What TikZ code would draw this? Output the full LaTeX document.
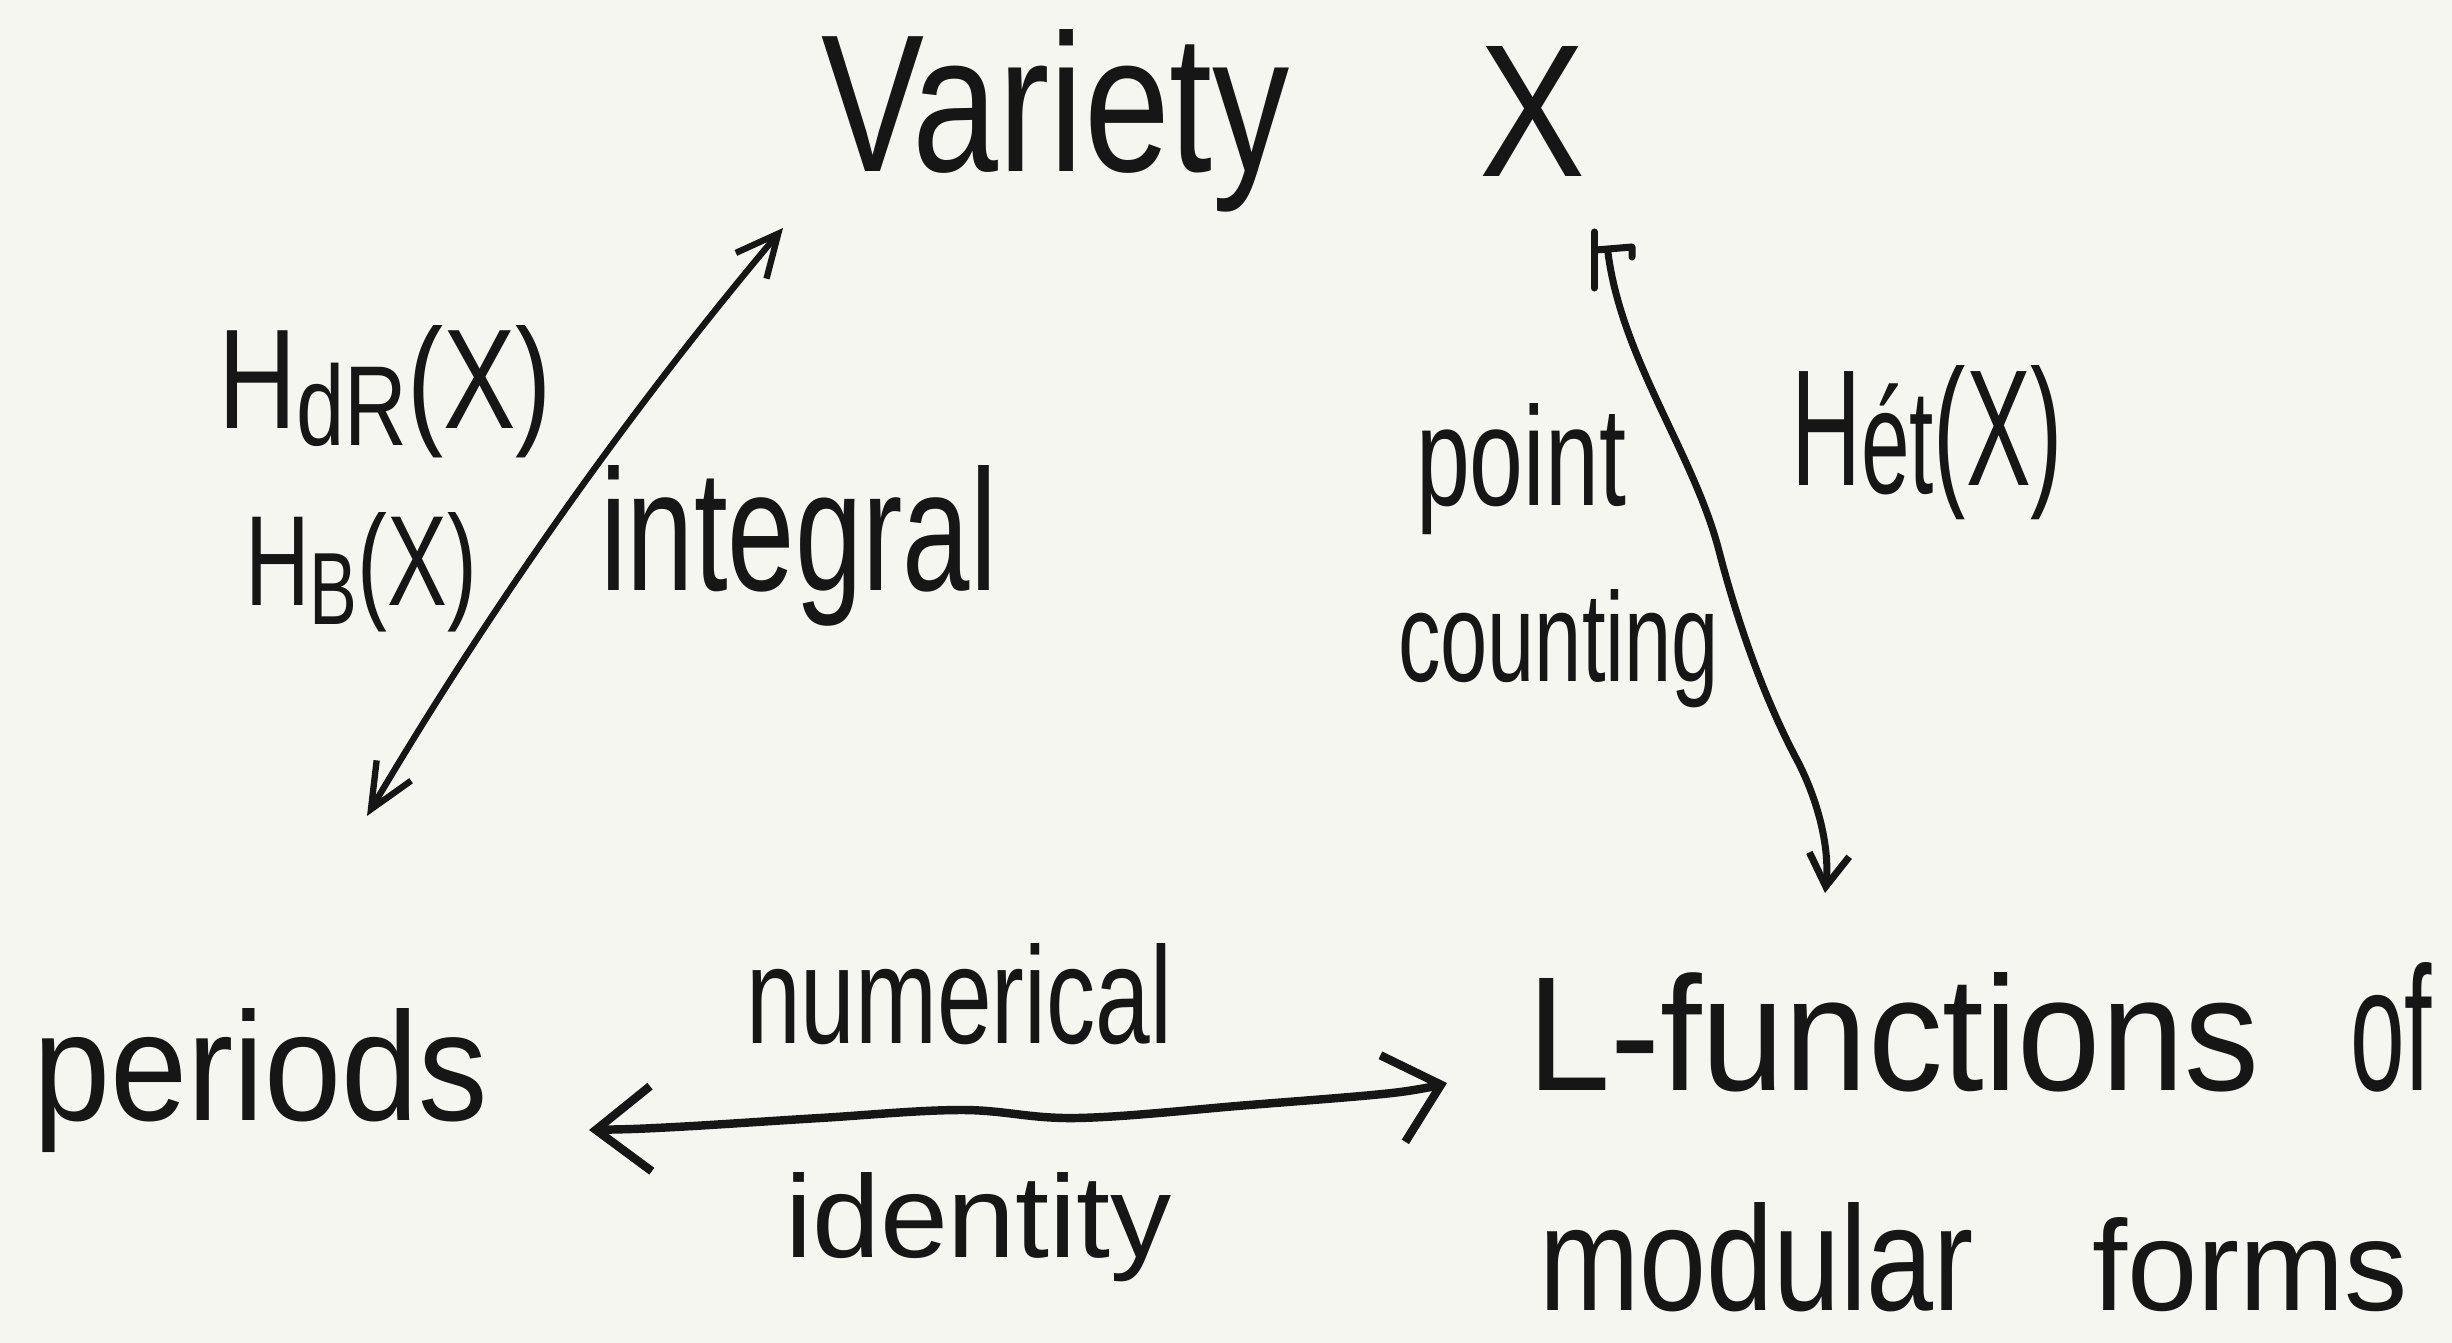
\documentclass[tikz,border=0pt]{standalone}
\usepackage{graphicx}
\usepackage{fontspec}
\setmainfont{Liberation Sans}
\usetikzlibrary{arrows.meta}
\definecolor{bg}{RGB}{246,246,241}
\definecolor{ink}{RGB}{22,22,22}
\newlength\pxu
\setlength\pxu{0.01cm}
\newcommand\hw[3]{\resizebox{#1\pxu}{#2\pxu}{#3}}
\begin{document}
\begin{tikzpicture}[x=0.01cm,y=-0.01cm,
  lbl/.style={inner sep=0pt,outer sep=0pt,anchor=base west,text=ink},
  conn/.style={draw=ink,line width=1.8pt,line cap=round,line join=round},
  heavy/.style={conn,line width=2.4pt}]
\path[use as bounding box,fill=bg] (0,0) rectangle (2452,1343);

% labels
\node[lbl] (variety) at (821,172) {\hw{469}{142}{Variety}\hspace{189\pxu}\raisebox{-5\pxu}{\hw{106}{130}{X}}};
\node[lbl] (hdr) at (218,428) {\hw{334}{103}{H\raisebox{-0.12em}{\footnotesize dR}(X)}};
\node[lbl] (hb) at (245,605) {\hw{232}{93}{H\raisebox{-0.15em}{\footnotesize B}(X)}};
\node[lbl] (integral) at (600,590) {\hw{397}{125}{integral}};
\node[lbl] (point) at (1416,505) {\hw{210}{102}{point}};
\node[lbl] (counting) at (1398,681) {\hw{321}{92}{counting}};
\node[lbl] (het) at (1791,485) {\hw{272}{120}{H\raisebox{-0.05em}{\small ét}(X)}};
\node[lbl] (periods) at (33,1120) {\hw{455}{112}{periods}};
\node[lbl] (numerical) at (746,1043) {\hw{426}{100}{numerical}};
\node[lbl] (identity) at (785,1257) {\hw{387}{85}{identity}};
\node[lbl] (lfun) at (1527,1090) {\hw{732}{118}{L-functions}\hspace{91\pxu}\hw{82}{128}{of}};
\node[lbl] (modular) at (1539,1310) {\hw{435}{108}{modular}\hspace{118\pxu}\hw{316}{93}{forms}};

% connector ends
\coordinate (a1) at (367,816);
\coordinate (a2) at (783,228);
\coordinate (p1) at (1608,253);
\coordinate (p2) at (1825,893);
\coordinate (b1) at (589,1130);
\coordinate (b2) at (1447,1083);

% periods <-> Variety
\draw[conn,{Straight Barb[length=4.5mm,width=4mm]}-{Straight Barb[length=4.2mm,width=4mm]}]
  (a1) .. controls (490,608) and (628,412) .. (a2);

% Variety X <-> L-functions
\draw[conn,line width=2pt,-{Straight Barb[length=3.2mm,width=4mm]}]
  (p1) .. controls (1622,360) and (1694,454) .. (1719,551)
       .. controls (1738,624) and (1764,698) .. (1797,760)
       .. controls (1818,800) and (1830,848) .. (p2);
\draw[conn,line width=2pt] ([shift={(-14,-21)}]p1) -- ++(0,56);
\draw[conn,line width=2pt] ([shift={(-12,-3)}]p1) -- ++(36,-3) -- ++(0,10);

% periods <-> L-functions
\draw[heavy,{Straight Barb[length=5.5mm,width=8.5mm]}-{Straight Barb[length=5mm,width=9mm]}]
  plot[smooth,tension=0.6] coordinates {(b1) (675,1127) (820,1118) (962,1110) (1077,1118) (1249,1105) (1392,1093) (b2)};
\end{tikzpicture}
\end{document}
